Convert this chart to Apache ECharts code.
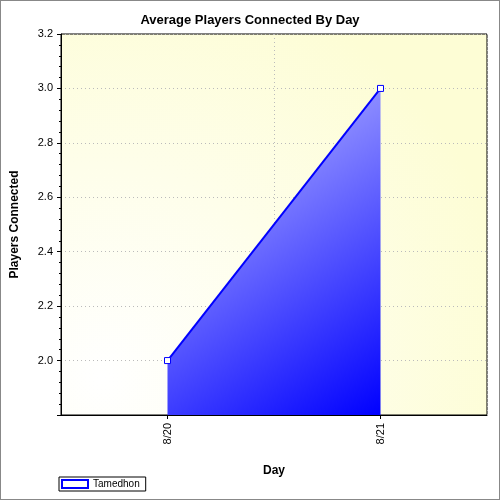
<!DOCTYPE html>
<html><head><meta charset="utf-8">
<script src="https://cdn.jsdelivr.net/npm/echarts@6/dist/echarts.min.js"></script>
<style>html,body{margin:0;padding:0;background:#fff}#c{width:500px;height:500px;box-sizing:border-box;border:1px solid #888}</style>
</head><body><div id="c"></div>
<script>
const categories = ['8/20', '8/21'];
const seriesName = 'Tamedhon';
const values = [2.0, 3.0];
const chart = echarts.init(document.getElementById('c'));
chart.setOption({
  animation: false,
  title: { text: 'Average Players Connected By Day', left: 'center', top: 8,
    textStyle: { fontFamily: 'Arial, Liberation Sans', fontSize: 13, fontWeight: 'bold', color: '#000' } },
  grid: { left: 57, right: 12, top: 33, bottom: 84,
    show: true, borderColor: '#000', borderWidth: 1,
    backgroundColor: new echarts.graphic.RadialGradient(0.1, 0.9, 1.1, [
      { offset: 0, color: '#ffffff' }, { offset: 1, color: '#fdfdd5' }]) },
  xAxis: { type: 'category', data: categories, boundaryGap: true,
    name: 'Day', nameLocation: 'middle', nameGap: 50,
    nameTextStyle: { fontFamily: 'Arial, Liberation Sans', fontWeight: 'bold', fontSize: 12, color: '#000' },
    axisLine: { lineStyle: { color: '#000' } },
    axisTick: { show: true, alignWithLabel: true, length: 4, lineStyle: { color: '#000' } },
    axisLabel: { rotate: 90, color: '#000', fontFamily: 'Arial, Liberation Sans', fontSize: 11 },
    splitLine: { show: true, interval: 0, lineStyle: { color: '#bbb', type: [1, 3] } } },
  yAxis: { type: 'value', min: 1.8, max: 3.2, interval: 0.2,
    name: 'Players Connected', nameLocation: 'middle', nameGap: 40,
    nameTextStyle: { fontFamily: 'Arial, Liberation Sans', fontWeight: 'bold', fontSize: 12, color: '#000' },
    axisLine: { show: true, lineStyle: { color: '#000' } },
    axisTick: { show: true, length: 4, lineStyle: { color: '#000' } },
    minorTick: { show: true, splitNumber: 5, length: 2, lineStyle: { color: '#000' } },
    axisLabel: { color: '#000', fontFamily: 'Arial, Liberation Sans', fontSize: 11,
      formatter: v => Math.abs(v - 1.8) < 1e-6 ? '' : v.toFixed(1) },
    splitLine: { show: true, lineStyle: { color: '#bbb', type: [1, 3] } } },
  legend: { left: 58, bottom: 8, itemWidth: 26, itemHeight: 8,
    data: [{ name: seriesName, icon: 'rect' }],
    backgroundColor: '#fff', borderColor: '#000', borderWidth: 1, padding: [2, 6, 2, 2],
    textStyle: { fontFamily: 'Arial, Liberation Sans', fontSize: 10, color: '#000' } },
  series: [{ name: seriesName, type: 'line', data: values,
    symbol: 'rect', symbolSize: 6,
    itemStyle: { color: '#fff', borderColor: '#0000ff', borderWidth: 1 },
    lineStyle: { color: '#0000ff', width: 2 },
    areaStyle: { opacity: 1, origin: 'start',
      color: new echarts.graphic.LinearGradient(0, 0, 1, 1, [
        { offset: 0, color: '#c8c8ff' }, { offset: 1, color: '#0000ff' }]) } }]
});
</script></body></html>
